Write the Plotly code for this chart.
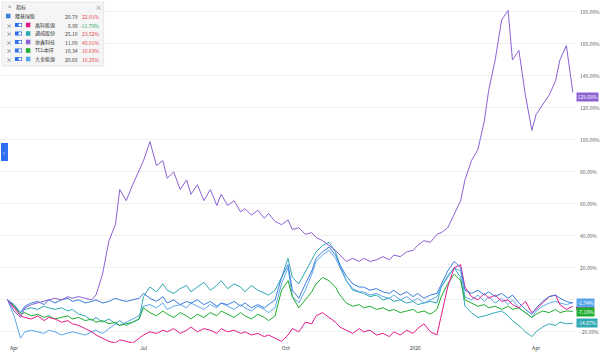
import numpy as np
import pandas as pd
import plotly.graph_objects as go

# ---------------- data ----------------
names = ["隆基绿能", "晶科能源", "通威股份", "协鑫科技", "TCL中环", "大全能源"]
prices = ["20.79", "6.06", "25.10", "11.09", "10.34", "20.68"]
changes = ["22.01%", "-11.79%", "23.52%", "40.91%", "10.63%", "16.25%"]
colors = ["#3b7ddd", "#e5198a", "#2fa9b4", "#8c62d3", "#1fae2e", "#5aa6ec"]

longi = [0,-3,-8,-4,-2,-1,-3,0,-2,0,1,-1,
         0,-2,-1,0,-2,-1,1,0,-1,0,1,4,
         1,-1,2,-2,0,-3,-1,-2,0,-3,-1,-4,
         -2,-3,-1,-4,-2,-5,-3,-5,-3,0,14,22,
         6,1,10,18,26,30,33,28,22,15,10,8,
         8,6,7,5,4,6,3,5,2,4,1,3,
         4,10,18,24,20,6,4,6,3,5,2,4,
         1,3,-2,-6,-9,-5,-1,2,3,1,-1,-2]
jinko = [0,-5,-10,-11,-12,-10,-13,-11,-12,-14,-13,-15,
         -16,-18,-20,-22,-24,-26,-27,-25,-26,-27,-24,-22,
         -20,-21,-19,-20,-18,-21,-19,-17,-20,-18,-19,-21,
         -18,-20,-19,-21,-20,-22,-21,-23,-22,-24,-26,-22,
         -18,-20,-14,-15,-10,-8,-11,-14,-17,-19,-21,-18,
         -20,-19,-22,-21,-23,-20,-22,-19,-21,-18,-15,-20,
         -22,-10,8,20,22,8,2,0,4,1,3,-1,
         0,-3,-5,-1,-8,-6,-2,2,3,-3,-6,-4]
tongwei = [0,-4,-8,-6,-5,-6,-4,-5,-6,-5,-7,-6,
           -9,-10,-13,-11,-14,-12,-15,-13,-16,-14,-12,2,
           8,5,10,6,4,7,9,5,8,11,6,9,
           12,7,10,8,5,9,6,4,3,6,14,26,
           14,10,18,25,30,34,36,30,22,12,6,5,
           4,2,3,0,1,-1,0,-2,-1,-3,-2,-1,
           -2,8,15,20,14,-4,-8,-11,-10,-9,-8,-7,
           -10,-13,-16,-20,-23,-20,-17,-15,-16,-14,-15,-14.67]
gcl = [0,-7,-11,-5,-3,-2,-1,0,1,0,2,1,
       2,1,0,3,16,37,47,69,62,72,81,87,
       99,84,87,76,80,69,75,66,72,62,69,59,
       66,59,62,55,57,53,56,51,54,49,47,50,
       44,45,41,42,39,37,34,31,28,24,26,24,
       26,24,25,27,25,28,27,30,31,34,37,36,
       41,42,45,53,62,75,87,94,112,131,150,175,
       181,150,156,128,106,116,122,128,137,150,159,129.68]
tcl = [0,-4,-9,-8,-10,-9,-11,-10,-12,-11,-10,-12,
       -11,-13,-12,-14,-13,-15,-14,-16,-15,-14,-12,-5,
       -8,-10,-7,-9,-11,-8,-10,-12,-9,-11,-8,-10,
       -7,-9,-11,-8,-10,-12,-9,-11,-13,-10,6,12,
       2,-5,0,5,10,14,12,8,3,-2,-4,-3,
       -5,-4,-6,-5,-7,-6,-8,-7,-6,-8,-7,-9,
       -6,2,10,16,12,0,-2,-4,-3,-5,-4,-6,
       -4,-6,-5,-8,-11,-9,-7,-8,-6,-8,-7,-7.18]
daqo = [0,-10,-24,-20,-19,-20,-21,-19,-20,-22,-21,-20,
        -21,-22,-20,-19,-21,-18,-15,-16,-14,-12,-10,-4,
        -3,-5,-2,-6,-4,-3,-5,-2,-4,-6,-3,-5,
        -2,-4,-6,-3,-5,-7,-4,-6,-8,-5,10,20,
        2,-2,6,16,24,28,31,26,20,12,7,5,
        5,3,4,2,1,3,0,2,-1,1,-2,0,
        2,8,14,20,18,2,0,3,-1,2,-2,1,
        -3,0,-5,-8,-11,-7,-4,-2,-1,-2,-3,-1.74]

series = [longi, jinko, tongwei, gcl, tcl, daqo]

# A-share market holidays (trading-day axis)
holidays = ["2025-04-04", "2025-05-01", "2025-05-02", "2025-05-05", "2025-06-02",
            "2025-10-01", "2025-10-02", "2025-10-03", "2025-10-06", "2025-10-07", "2025-10-08",
            "2026-01-01", "2026-01-02", "2026-02-16", "2026-02-17", "2026-02-18",
            "2026-02-19", "2026-02-20", "2026-02-23", "2026-04-06"]
trading_days = pd.bdate_range("2025-03-27", "2026-04-27", freq="C", holidays=holidays)
sample_idx = np.linspace(0, len(trading_days) - 1, len(longi)).round().astype(int)
dates = trading_days[sample_idx]

x_tick_vals = ["2025-04-01", "2025-07-01", "2025-10-09", "2026-01-05", "2026-04-01"]
x_tick_text = ["Apr", "Jul", "Oct", "2026", "Apr"]
y_tick_vals = list(range(-20, 181, 20))
y_tick_text = ["" if v == 0 else f"{v:.2f}%" for v in y_tick_vals]

# ---------------- figure ----------------
W, H = 600, 353
ML, MR, MT, MB = 0, 23, 0, 10
PW, PH = W - ML - MR, H - MT - MB
Y0, Y1 = -27, 187.5

def px(x):  # pixel -> paper x
    return (x - ML) / PW

def py(y):  # pixel -> paper y
    return 1 - (y - MT) / PH

def yv(ypix):  # pixel -> data y
    return Y1 - (ypix - MT) / PH * (Y1 - Y0)

fig = go.Figure()
draw_order = [2, 5, 4, 1, 0, 3]
for k in draw_order:
    fig.add_trace(go.Scatter(x=dates, y=series[k], mode="lines", name=names[k],
                             line=dict(color=colors[k], width=1), showlegend=False,
                             hoverinfo="skip"))

fig.update_layout(
    width=W, height=H, margin=dict(l=ML, r=MR, t=MT, b=MB),
    paper_bgcolor="white", plot_bgcolor="white",
    font=dict(family="Noto Sans CJK SC, Noto Sans, sans-serif", size=5, color="#555"),
    xaxis=dict(range=["2025-03-21 12:00", "2026-04-28"], tickvals=x_tick_vals, ticktext=x_tick_text,
               rangebreaks=[dict(bounds=["sat", "mon"]), dict(values=holidays)],
               showgrid=False, zeroline=False, showline=False, ticks="",
               tickfont=dict(size=5, color="#444"), ticklabelstandoff=1),
    yaxis=dict(side="right", range=[Y0, Y1], tickvals=y_tick_vals, ticktext=y_tick_text,
               showgrid=True, gridcolor="#f0f0f0", gridwidth=1, zeroline=False,
               showline=False, ticks="", tickfont=dict(size=5, color="#666"),
               ticklabelstandoff=4),
)

shapes = []
# magenta end-label, almost fully covered in the reference: only a stripe shows
shapes.append(dict(type="rect", xref="paper", yref="y", x0=1 + 1 / PW, x1=1 + 19 / PW,
                   y0=yv(309.5), y1=yv(306.5), fillcolor=colors[1], line=dict(width=0),
                   layer="above"))

end_labels = [(5, "-1.74%", 303), (4, "-7.18%", 312.3), (2, "-14.67%", 323), (3, "129.68%", 97)]
for k, txt, ypix in end_labels:
    fig.add_annotation(xref="paper", yref="y", x=1, y=yv(ypix), xanchor="left", yanchor="middle",
                       xshift=1, text=txt, showarrow=False, bgcolor=colors[k], height=6.5,
                       font=dict(size=5, color="white"), borderpad=0.5)

# legend panel
shapes += [dict(type="rect", xref="paper", yref="paper", x0=px(2), x1=px(104), y0=py(66), y1=py(2),
                fillcolor="#f5f5f5", line=dict(color="#e6e6e6", width=1), layer="above"),
           dict(type="rect", xref="paper", yref="paper", x0=px(1), x1=px(8), y0=py(161), y1=py(143),
                fillcolor="#2d6ff0", line=dict(width=0), layer="above")]
ann = []
ann.append(dict(x=px(6), y=py(7), text="^", xanchor="left", font=dict(size=6, color="#555")))
ann.append(dict(x=px(14), y=py(7), text="指标", xanchor="left", font=dict(size=5, color="#333")))
ann.append(dict(x=px(99), y=py(7), text="×", xanchor="center", font=dict(size=7, color="#888")))
ann.append(dict(x=px(4.5), y=py(152), text="›", xanchor="center", font=dict(size=6, color="white")))

row_y = [16, 25, 33.5, 42, 50.5, 59]
for i in range(6):
    yy = row_y[i]
    if i == 0:
        sq_x = 6
        name_x = 13
    else:
        sq_x = 26
        name_x = 33
        ann.append(dict(x=px(9), y=py(yy), text="×", xanchor="center", font=dict(size=6, color="#555")))
        shapes.append(dict(type="rect", xref="paper", yref="paper", x0=px(15), x1=px(22),
                           y0=py(yy + 2), y1=py(yy - 2), fillcolor="#2d6ff0",
                           line=dict(width=0), layer="above"))
        shapes.append(dict(type="circle", xref="paper", yref="paper", x0=px(18.5), x1=px(21.5),
                           y0=py(yy + 1.5), y1=py(yy - 1.5), fillcolor="white",
                           line=dict(width=0), layer="above"))
    shapes.append(dict(type="rect", xref="paper", yref="paper", x0=px(sq_x), x1=px(sq_x + 4.5),
                       y0=py(yy + 2.3), y1=py(yy - 2.3), fillcolor=colors[i],
                       line=dict(width=0), layer="above"))
    ann.append(dict(x=px(name_x), y=py(yy), text=names[i], xanchor="left",
                    font=dict(size=5, color="#333")))
    ann.append(dict(x=px(80), y=py(yy), text=prices[i], xanchor="right",
                    font=dict(size=5, color="#444")))
    neg = changes[i].startswith("-")
    ann.append(dict(x=px(101), y=py(yy), text=changes[i], xanchor="right",
                    font=dict(size=5, color="#1aa35a" if neg else "#e5484d")))

for a in ann:
    a.update(xref="paper", yref="paper", showarrow=False, yanchor="middle")
    fig.add_annotation(**a)
fig.update_layout(shapes=shapes)

fig.write_html("out.html")
